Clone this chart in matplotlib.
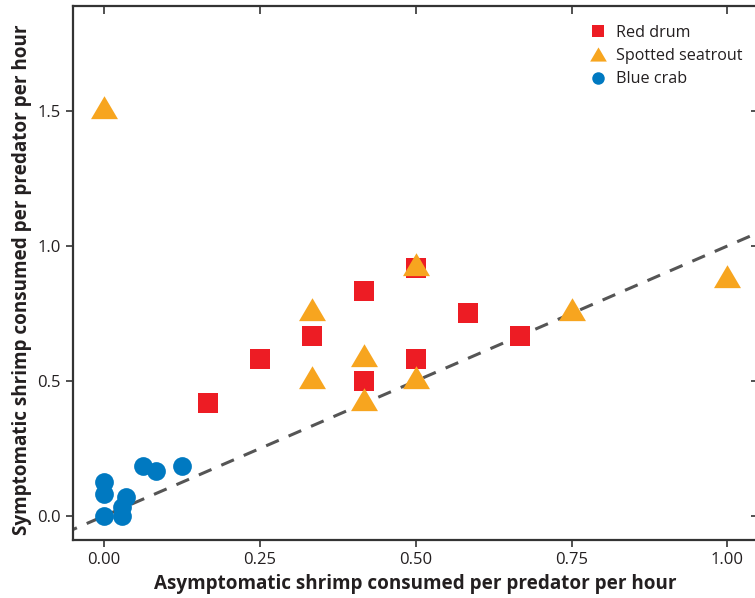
import matplotlib
matplotlib.use("Agg")
import matplotlib.pyplot as plt
from matplotlib.lines import Line2D

plt.rcParams['font.family'] = ['Open Sans', 'DejaVu Sans']

# Data
red_x = [0.167, 0.25, 0.333, 0.417, 0.417, 0.5, 0.5, 0.583, 0.667]
red_y = [0.417, 0.583, 0.667, 0.5, 0.833, 0.917, 0.583, 0.75, 0.667]

trout_x = [0.0, 0.333, 0.333, 0.417, 0.417, 0.5, 0.5, 0.75, 1.0]
trout_y = [1.5, 0.75, 0.5, 0.583, 0.417, 0.917, 0.5, 0.75, 0.875]

crab_x = [0.0, 0.0, 0.0, 0.028, 0.028, 0.035, 0.0625, 0.083, 0.125]
crab_y = [0.0, 0.083, 0.125, 0.0, 0.035, 0.07, 0.185, 0.167, 0.185]

line_x = [-0.1, 1.1]
line_y = [-0.1, 1.1]

xticks = [0.0, 0.25, 0.5, 0.75, 1.0]
xticklabels = ["0.00", "0.25", "0.50", "0.75", "1.00"]
yticks = [0.0, 0.5, 1.0, 1.5]
yticklabels = ["0.0", "0.5", "1.0", "1.5"]

RED = "#ED1C24"
ORANGE = "#F7A51F"
BLUE = "#0079C1"
GRAY = "#555555"

# triangle centred on its centroid
tri = [(0, 1.133), (-1, -0.567), (1, -0.567), (0, 1.133)]
tri_leg = [(0, 0.85), (-1, -0.85), (1, -0.85), (0, 0.85)]

fig = plt.figure(figsize=(7.55, 5.98), dpi=100)
ax = fig.add_axes([0.0967, 0.097, 0.908, 0.893])

ax.plot(line_x, line_y, linestyle=(0, (4.5, 3.5)), color=GRAY, linewidth=2.2, zorder=1)
ax.plot(crab_x, crab_y, linestyle='none', marker='o', markersize=13.5, color=BLUE,
        markeredgewidth=0, zorder=2)
ax.plot(red_x, red_y, linestyle='none', marker='s', markersize=15, color=RED,
        markeredgewidth=0, zorder=3)
ax.plot(trout_x, trout_y, linestyle='none', marker=tri, markersize=22, color=ORANGE,
        markeredgewidth=0, zorder=4)

ax.set_xlim(-0.05, 1.05)
ax.set_ylim(-0.089, 1.889)

ax.set_xticks(xticks)
ax.set_xticklabels(xticklabels)
ax.set_yticks(yticks)
ax.set_yticklabels(yticklabels)

ax.tick_params(axis='both', which='both', direction='out', length=5, width=1.2,
               color='#333333', labelsize=12, labelcolor='#231F20', pad=4)
ax.tick_params(top=True, right=True, labeltop=False, labelright=False)
for t in ax.xaxis.get_major_ticks():
    t.tick2line.set_marker(3)  # pointing down
    t.tick2line.set_markersize(6)
for t in ax.yaxis.get_major_ticks():
    t.tick2line.set_marker(0)  # pointing left
    t.tick2line.set_markersize(6)

for s in ax.spines.values():
    s.set_linewidth(1.6)
    s.set_color('#333333')

ax.set_xlabel("Asymptomatic shrimp consumed per predator per hour", fontsize=13.6,
              fontweight='bold', color='#231F20', va='center')
ax.xaxis.set_label_coords(0.4993, -0.0824)
ax.set_ylabel("Symptomatic shrimp consumed per predator per hour", fontsize=13.6,
              fontweight='bold', color='#231F20', va='center')
ax.yaxis.set_label_coords(-0.0743, 0.487)

handles = [
    Line2D([], [], linestyle='none', marker='s', markersize=9, color=RED, markeredgewidth=0),
    Line2D([], [], linestyle='none', marker=tri_leg, markersize=12, color=ORANGE, markeredgewidth=0),
    Line2D([], [], linestyle='none', marker='o', markersize=9, color=BLUE, markeredgewidth=0),
]
ax.legend(handles, ["Red drum", "Spotted seatrout", "Blue crab"], loc='upper left',
          bbox_to_anchor=(0.745, 0.977), frameon=False, fontsize=11.6, handlelength=1.0,
          handletextpad=0.6, labelspacing=0.45, borderaxespad=0, labelcolor='#231F20')

fig.savefig("out.png", dpi=100)
